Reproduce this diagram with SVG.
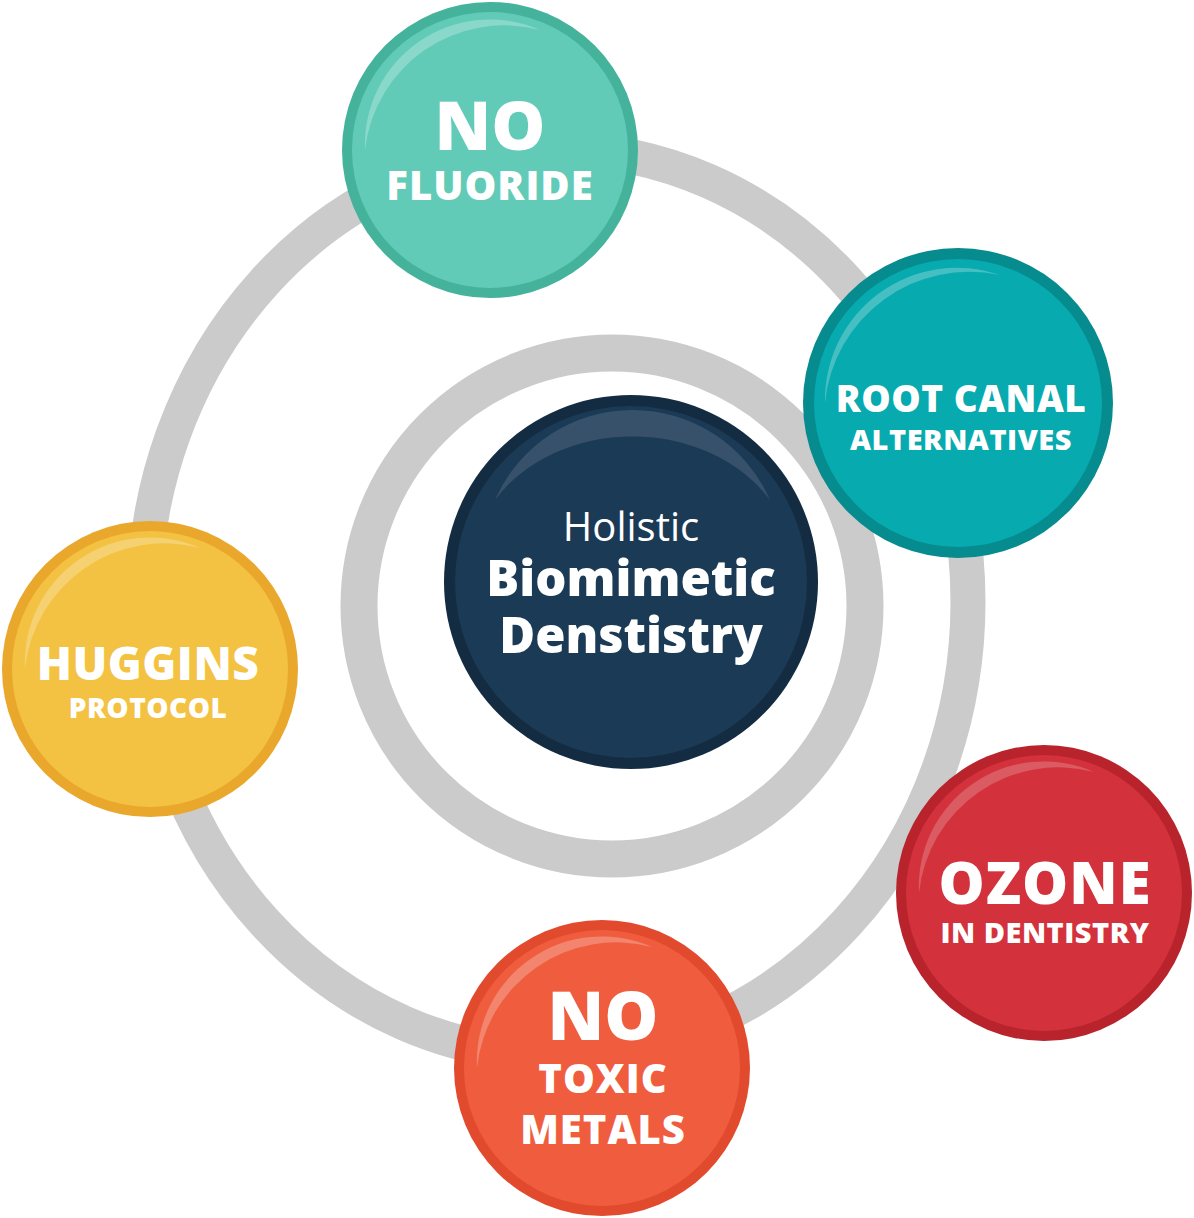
<svg xmlns="http://www.w3.org/2000/svg" width="1194" height="1218" viewBox="0 0 1194 1218">
<style>
.ring{fill:none;stroke:#cbcbcb}
.t{font-family:"Open Sans","Liberation Sans",sans-serif;font-weight:800;fill:#fff;text-anchor:middle}
.hl{fill:#fff;opacity:0.12}
</style>
<rect width="1194" height="1218" fill="#fff"/>
<g id="connectors">
<ellipse class="ring" cx="556" cy="602" rx="412" ry="453" stroke-width="35"/>
<circle class="ring" cx="612" cy="606" r="253" stroke-width="37"/>
</g>
<g id="center">
<circle cx="631" cy="582" r="187" fill="#132c42"/>
<circle cx="631" cy="582" r="176" fill="#1b3a55"/>
<path class="hl" d="M495 500 A150 150 0 0 1 770 500 A160 130 0 0 0 495 500Z"/>
<text class="t" x="631" y="541" font-size="40" style="font-weight:400">Holistic</text>
<text class="t" x="631" y="596" font-size="49">Biomimetic</text>
<text class="t" x="631" y="653" font-size="49">Denstistry</text>
</g>
<g id="fluoride">
<circle cx="490" cy="150" r="148" fill="#45b39c"/>
<circle cx="490" cy="150" r="138" fill="#62cbb8"/>
<path class="hl" d="M365 150 A125 125 0 0 1 540 30 A140 140 0 0 0 365 150Z" style="opacity:0.25"/>
<text class="t" x="490" y="150" font-size="68">NO</text>
<text class="t" x="490" y="200" font-size="40" letter-spacing="1">FLUORIDE</text>
</g>
<g id="rootcanal">
<circle cx="958" cy="403" r="155" fill="#068b8e"/>
<circle cx="958" cy="403" r="144" fill="#07aaae"/>
<path class="hl" d="M825 403 A132 132 0 0 1 1000 275 A145 145 0 0 0 825 403Z" style="opacity:0.25"/>
<text class="t" x="961" y="412" font-size="37" letter-spacing="0.5">ROOT CANAL</text>
<text class="t" x="961" y="450" font-size="29" letter-spacing="0.5">ALTERNATIVES</text>
</g>
<g id="huggins">
<circle cx="150" cy="669" r="148" fill="#e9a82c"/>
<circle cx="150" cy="669" r="138" fill="#f3c242"/>
<path class="hl" d="M25 669 A125 125 0 0 1 200 548 A140 140 0 0 0 25 669Z" style="opacity:0.25"/>
<text class="t" x="148" y="680" font-size="46" letter-spacing="0.5">HUGGINS</text>
<text class="t" x="148" y="718" font-size="28" letter-spacing="0.5">PROTOCOL</text>
</g>
<g id="ozone">
<circle cx="1044" cy="893" r="148" fill="#b8232c"/>
<circle cx="1044" cy="893" r="138" fill="#d3323c"/>
<path class="hl" d="M919 893 A125 125 0 0 1 1094 772 A140 140 0 0 0 919 893Z" style="opacity:0.2"/>
<text class="t" x="1045" y="904" font-size="58" letter-spacing="1">OZONE</text>
<text class="t" x="1045" y="943" font-size="29" letter-spacing="0.5">IN DENTISTRY</text>
</g>
<g id="toxic">
<circle cx="602" cy="1068" r="148" fill="#e24a2e"/>
<circle cx="602" cy="1068" r="138" fill="#ef5d3e"/>
<path class="hl" d="M477 1068 A125 125 0 0 1 652 947 A140 140 0 0 0 477 1068Z" style="opacity:0.25"/>
<text class="t" x="603" y="1040" font-size="68">NO</text>
<text class="t" x="603" y="1093" font-size="40" letter-spacing="1">TOXIC</text>
<text class="t" x="603" y="1144" font-size="40" letter-spacing="1">METALS</text>
</g>
</svg>
